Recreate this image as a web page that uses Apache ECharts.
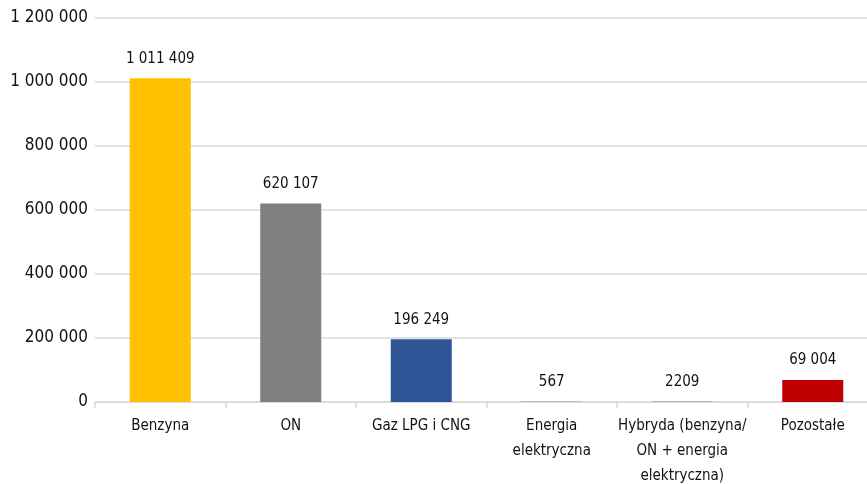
<!DOCTYPE html>
<html><head><meta charset="utf-8">
<script src="https://cdn.jsdelivr.net/npm/echarts@6/dist/echarts.min.js"></script>
<style>html,body{margin:0;padding:0;background:#fff}#c{width:867px;height:484px}</style>
</head><body><div id="c"></div>
<script>
const categories = ["Benzyna", "ON", "Gaz LPG i CNG", "Energia\nelektryczna", "Hybryda (benzyna/\nON + energia\nelektryczna)", "Pozostałe"];
const values = [1011409, 620107, 196249, 567, 2209, 69004];
const valueLabels = ["1 011 409", "620 107", "196 249", "567", "2209", "69 004"];
const colors = ["#FFC000", "#7F7F7F", "#2F5597", "#4472C4", "#A5A5A5", "#C00000"];
const yTicks = [0, 200000, 400000, 600000, 800000, 1000000, 1200000];

const FONT = "'Liberation Sans Narrow','DejaVu Sans Condensed',sans-serif";
function fmt(v){ return String(v).replace(/\B(?=(\d{3})+(?!\d))/g, " "); }

const chart = echarts.init(document.getElementById('c'), null, {renderer:'canvas'});
chart.setOption({
  animation: false,
  grid: { left: 95, top: 18, width: 783, height: 384, containLabel: false, outerBoundsMode: 'none' },
  xAxis: {
    type: 'category', data: categories,
    axisLine: { show: true, lineStyle: { color: '#d9d9d9', width: 1.5 } },
    axisTick: { show: true, alignWithLabel: false, length: 6, lineStyle: { color: '#d9d9d9', width: 1.5 } },
    axisLabel: { color: '#111', fontFamily: FONT, fontSize: 15, margin: 12, lineHeight: 25, interval: 0 }
  },
  yAxis: {
    type: 'value', min: 0, max: 1200000, interval: 200000,
    axisLine: { show: false }, axisTick: { show: false },
    splitLine: { lineStyle: { color: '#d9d9d9', width: 1.5 } },
    axisLabel: { color: '#111', fontFamily: FONT, fontSize: 17, margin: 7,
      formatter: v => fmt(v) }
  },
  series: [{
    type: 'bar', barWidth: 61,
    data: values.map((v, i) => ({ value: v, itemStyle: { color: colors[i] } })),
    label: { show: true, position: 'top', distance: 12, color: '#111', fontFamily: FONT, fontSize: 15,
      formatter: p => valueLabels[p.dataIndex] }
  }]
});
</script></body></html>
